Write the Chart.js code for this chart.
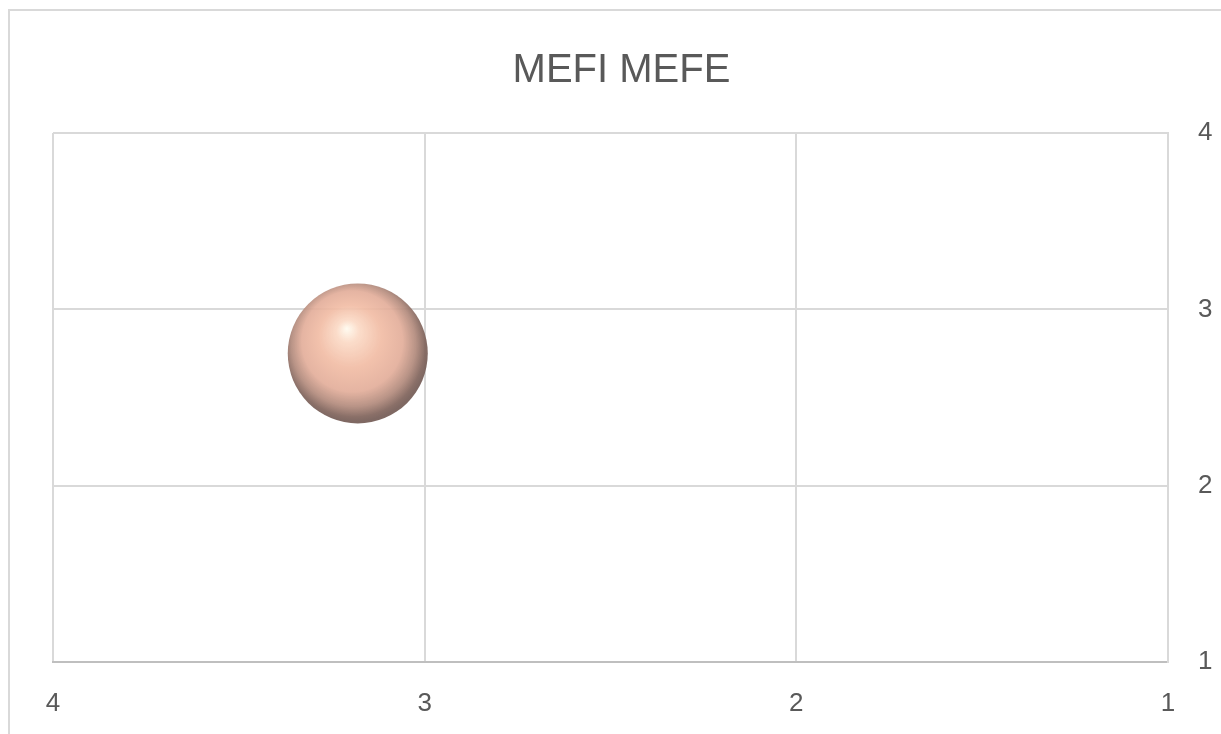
<!DOCTYPE html>
<html>
<head>
<meta charset="utf-8">
<script src="https://cdn.jsdelivr.net/npm/chart.js@4.4.0/dist/chart.umd.min.js"></script>
<style>
    html, body { margin: 0; padding: 0; background: #ffffff; }
    #wrap { position: relative; width: 1221px; height: 734px; }
</style>
</head>
<body>
<div id="wrap"><canvas id="graph"></canvas></div>
<script>
const chartTitle = "MEFI MEFE";
const bubbleX = [3.18];
const bubbleY = [2.75];
const bubbleR = [70];
const xTicks = [1, 2, 3, 4];
const yTicks = [1, 2, 3, 4];

const canvas = document.getElementById('graph');

// light frame round the chart, like the excel chart border
const framePlugin = {
    id: 'frame',
    beforeDraw(chart) {
        const ctx = chart.ctx;
        ctx.save();
        ctx.strokeStyle = '#d9d9d9';
        ctx.lineWidth = 2;
        ctx.beginPath();
        ctx.moveTo(9, chart.height);
        ctx.lineTo(9, 10);
        ctx.lineTo(chart.width, 10);
        ctx.stroke();
        ctx.restore();
    }
};

function sphereColor(context) {
    const chart = context.chart;
    const raw = context.raw;
    if (!chart.chartArea || !raw) {
        return 'rgba(240, 185, 160, 0.9)';
    }
    const cx = chart.scales.x.getPixelForValue(raw.x);
    const cy = chart.scales.y.getPixelForValue(raw.y);
    const r = raw.r;
    const g = chart.ctx.createRadialGradient(cx - 11, cy - 25, 0, cx - 3, cy - 6, r + 4);
    g.addColorStop(0, 'rgba(255, 251, 240, 0.95)');
    g.addColorStop(0.15, 'rgba(251, 218, 198, 0.92)');
    g.addColorStop(0.42, 'rgba(241, 187, 163, 0.9)');
    g.addColorStop(0.68, 'rgba(226, 172, 152, 0.9)');
    g.addColorStop(0.84, 'rgba(178, 138, 124, 0.92)');
    g.addColorStop(0.95, 'rgba(132, 104, 96, 0.95)');
    g.addColorStop(1, 'rgba(120, 96, 90, 0.95)');
    return g;
}

const data = {
    datasets: [{
        label: chartTitle,
        data: bubbleX.map((x, i) => ({ x: x, y: bubbleY[i], r: bubbleR[i] })),
        backgroundColor: sphereColor,
        borderWidth: 0
    }]
};

const tickFont = { family: "'Liberation Sans', Arial, sans-serif", size: 26 };

const options = {
    responsive: false,
    animation: false,
    layout: { autoPadding: false, padding: { left: 22, right: 0, top: 0, bottom: 0 } },
    plugins: {
        legend: { display: false },
        tooltip: { enabled: false },
        title: {
            display: true,
            text: chartTitle,
            color: '#595959',
            font: { family: "'Liberation Sans', Arial, sans-serif", size: 40, weight: 'normal' },
            padding: { top: 47, bottom: 38 }
        }
    },
    scales: {
        x: {
            type: 'linear',
            reverse: true,
            min: 1,
            max: 4,
            afterBuildTicks: scale => { scale.ticks = xTicks.map(v => ({ value: v })); },
            afterFit: scale => { scale.height = 72; },
            ticks: { color: '#595959', font: tickFont, padding: 26, maxRotation: 0 },
            grid: { color: '#d9d9d9', lineWidth: 2, drawTicks: false },
            border: { color: '#bfbfbf', width: 2 }
        },
        y: {
            type: 'linear',
            position: 'right',
            min: 1,
            max: 4,
            afterBuildTicks: scale => { scale.ticks = yTicks.map(v => ({ value: v })); },
            afterFit: scale => { scale.width = 53; },
            ticks: { color: '#595959', font: tickFont, padding: 30 },
            grid: { color: '#d9d9d9', lineWidth: 2, drawTicks: false },
            border: { color: '#d9d9d9', width: 2 }
        },
        // empty spacer on the left so the plot starts where the reference does
        yLeft: {
            type: 'linear',
            position: 'left',
            min: 1,
            max: 4,
            afterFit: scale => { scale.width = 31; },
            ticks: { display: false },
            grid: { display: false },
            border: { display: false }
        }
    }
};

canvas.width = 1221;
canvas.height = 734;
const chart = new Chart(canvas, {
    type: 'bubble',
    data: data,
    options: options,
    plugins: [framePlugin]
});
</script>
</body>
</html>
